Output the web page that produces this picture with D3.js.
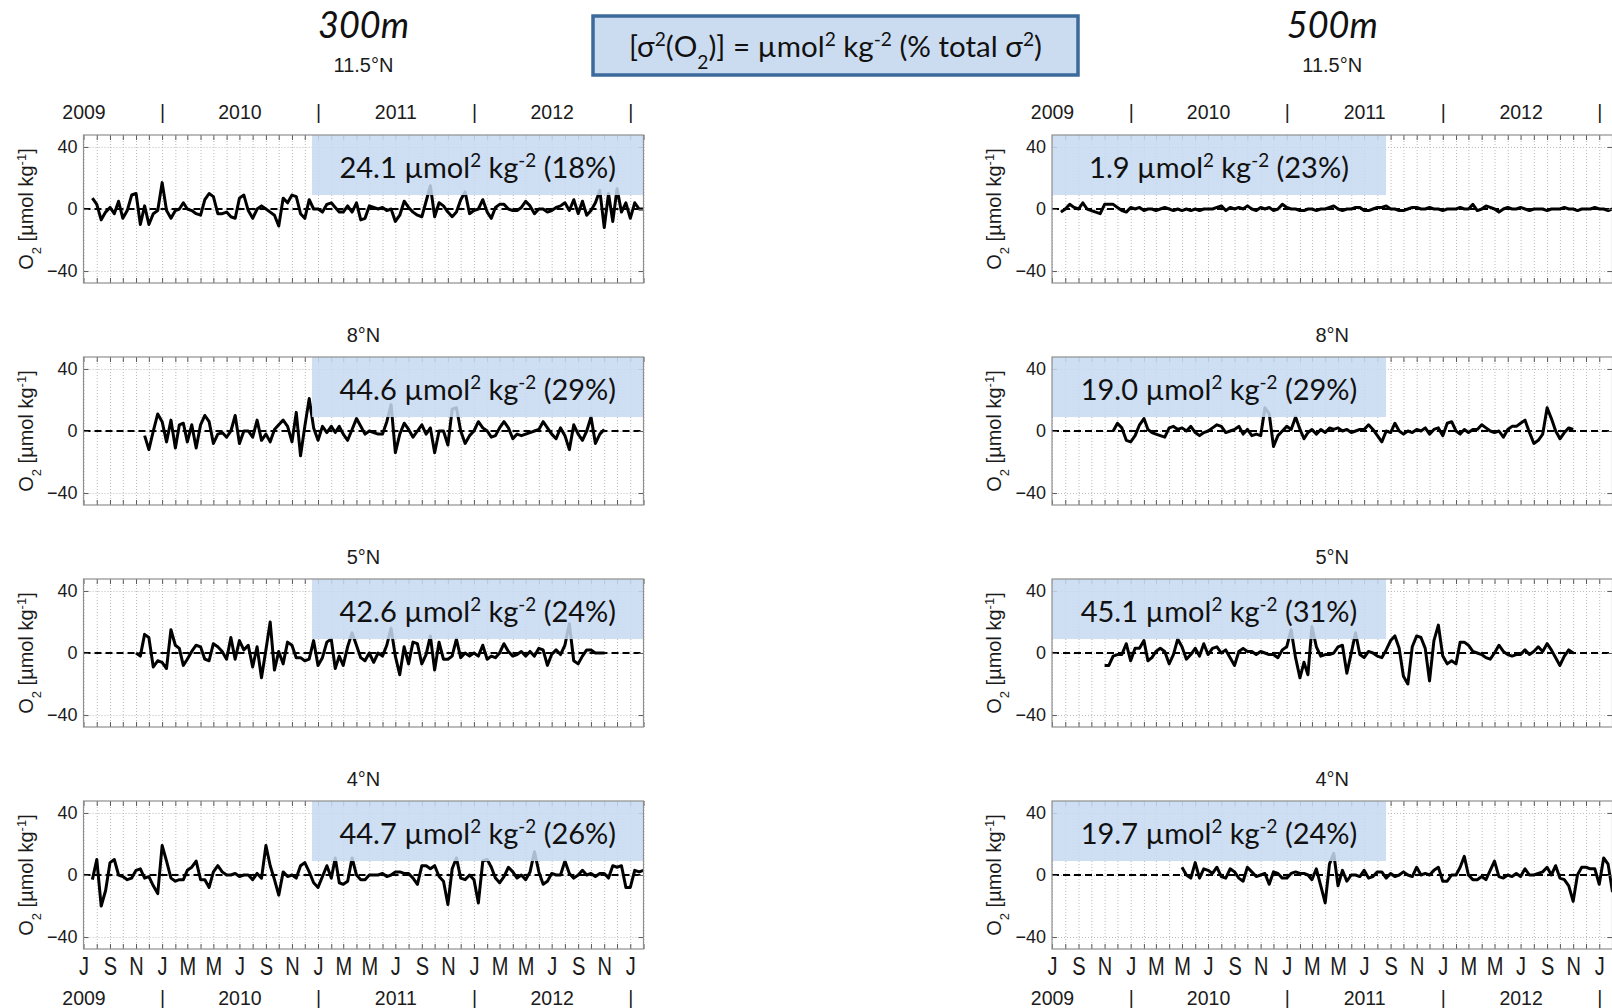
<!DOCTYPE html>
<html>
<head>
<meta charset="utf-8">
<title>O2 anomalies 300m / 500m</title>
<script src="https://cdnjs.cloudflare.com/ajax/libs/d3/7.8.5/d3.min.js"></script>
<style>
  body { margin: 0; background: #fff; }
  #chart text { font-family: "Liberation Sans", Arial, sans-serif; fill: #1b1b1b; }
  #chart .callout { font-family: Lato, "Open Sans", sans-serif; fill: #111; }
</style>
</head>
<body>
<div id="chart"></div>
<script>
//  Time sampling: records start N months after 1 Jul 2009, one value every 1/3 month
var ORIGIN  =   new Date(2009, 6, 1);
var END     =   new Date(2013, 1, 1);
var STEP    =   1 / 3;

// Labels
var depths        = ["300m", "500m"];
var latitudes     = ["11.5°N", "8°N", "5°N", "4°N"];
var years         = [2009, 2010, 2011, 2012];
var monthLetters  = ["J","F","M","A","M","J","J","A","S","O","N","D"];
var yTicks        = [-40, 0, 40];

// Variance of O2 [umol2 kg-2] and share of total variance [%]
var variance300   = ["24.1", "44.6", "42.6", "44.7"];
var share300      = [18, 29, 24, 26];
var variance500   = ["1.9", "19.0", "45.1", "19.7"];
var share500      = [23, 29, 31, 24];

// First sample of each record, months after 1 Jul 2009
var start300      = [0.67, 4.67, 4, 0.67];
var start500      = [0.67, 4.67, 4, 10];

// O2 anomalies [umol kg-1], 300m
var o2_300_11N = [7, 3, -7, -2, 1, -3, 5, -6, -1, 9,
  10, -10, 2, -10, -3, -1, 17, -1, -6, -1,
  0, 4, 0, -1, -3, -4, 6, 10, 8, -3,
  -3, -2, -5, -6, 7, 9, -1, -6, 0, 2,
  0, -2, -4, -11, 7, 4, 9, 8, -3, -6,
  6, 0, 0, -2, 3, 4, 1, -2, -2, 2,
  -2, 4, -7, -6, 2, 1, 0, 1, -1, 0,
  -8, -4, 5, 1, -2, -4, -5, 5, 15, -5,
  4, 2, -2, -5, -2, 6, 11, -3, -1, 0,
  6, -2, -6, 1, 3, 3, 0, -1, -1, 1,
  5, 2, -3, 0, 0, -2, -1, 1, 2, 4,
  -1, 6, -3, 5, -4, -1, 4, 12, -12, 10,
  -8, 13, -2, 4, -6, 4, 0, 0];
var o2_300_8N = [-3, -12, 0, 11, 6, -7, 7, -11, 4, 5,
  -7, 4, -11, 4, 10, 6, -8, -2, -1, -4,
  0, 10, -8, 0, 0, -4, 7, -6, -2, -7,
  1, 4, 7, 3, -7, 12, -16, 3, 21, 2,
  -6, 3, -1, 3, -1, 3, -2, -6, 1, 8,
  3, -2, 0, -1, -2, -2, 6, 17, -14, -2,
  5, 1, -4, 0, 4, -2, 2, -14, 0, 0,
  -9, 14, 15, 0, -8, -3, 0, 6, 2, 0,
  -4, -3, 2, 6, 2, -5, -2, -3, -2, -1,
  0, 1, 6, 2, -2, -5, 2, -3, -12, 4,
  -2, -6, 0, 9, -8, -2, 1];
var o2_300_5N = [0, -2, 12, 10, -9, -5, -6, -10, 15, 5,
  3, -8, -4, 1, 5, 4, -4, -5, 6, 4,
  1, -4, 10, -4, 8, 2, 5, -9, 4, -16,
  2, 20, -11, 1, -7, 7, 5, -3, -3, -5,
  -4, 8, -8, -3, 7, 9, -10, -2, -8, 4,
  13, 5, -3, -5, 0, -6, 0, -2, 5, 16,
  -2, -14, 4, -7, 7, 6, -7, -1, 11, -11,
  7, -4, -4, -2, 9, -3, 0, -2, 0, -2,
  5, -4, -2, -3, 0, 6, 1, -2, -1, 1,
  -2, 1, -2, 3, 2, -8, -1, 2, -1, 5,
  19, -5, -7, -2, 2, 2, 0, 0, 0];
var o2_300_4N = [-3, 10, -20, -10, 8, 10, 0, -1, -3, -2,
  3, 4, -2, -1, -7, -12, 19, 9, -2, -4,
  -3, -3, 3, 5, 9, -3, -3, -8, 2, 6,
  2, 0, 0, 1, -1, 0, 0, -3, 1, -2,
  19, 6, -3, -13, 2, -1, 0, -2, 6, 8,
  2, -5, -8, -1, 6, -2, 11, -5, -6, -4,
  11, 0, -3, -3, 0, 0, 0, 1, -1, 0,
  2, 2, 1, 1, -2, -6, 6, 6, 4, 6,
  -1, -4, -19, 4, 11, -2, -3, 0, -3, -18,
  9, 10, 5, -2, -5, -1, 5, 2, -2, 0,
  -3, 2, 15, 2, -6, -4, 1, 0, 0, 9,
  1, -2, 0, 3, 0, 1, -1, 1, 1, -2,
  6, 5, 6, -8, -8, 3, 2, 3];

// O2 anomalies [umol kg-1], 500m
var o2_500_11N = [-2, 0, 3, 1, 0, 4, 0, -1, -2, -3,
  3, 3, 3, 1, -1, -2, 1, 0, 1, -1,
  0, 0, -1, 0, 1, 0, -1, 0, -1, 0,
  -1, 0, -1, 0, 0, 0, 1, 2, -1, 1,
  0, 1, 0, 2, 0, -1, 1, 0, 1, -1,
  0, 3, 1, 0, 0, -1, -1, 0, 0, -1,
  0, 0, 1, 2, 0, -1, 0, 0, 1, 1,
  -1, -1, 0, 1, 1, 2, 0, 0, -1, -1,
  0, 1, 1, 0, 0, 1, 0, 0, -1, 0,
  0, 0, 1, 0, 0, 3, -1, 0, 2, 1,
  0, -2, 0, 1, 0, 0, 1, 0, -1, 0,
  0, 0, -1, 0, 0, 0, 1, 0, 0, -1,
  0, 0, 0, 1, 0, 0, -1, 0];
var o2_500_8N = [0, 5, 2, -6, -7, -3, 4, 8, 1, -1,
  -2, -3, -4, 2, 3, 1, 2, 0, 3, -1,
  -3, -1, 0, 2, 4, 3, -1, 0, 1, 3,
  -2, 1, -3, -2, -3, 15, 11, -10, -3, 0,
  3, 1, 9, 1, -5, -1, 1, -2, 1, -1,
  2, 1, 2, 0, 1, -1, 0, 1, 1, 4,
  1, -3, -7, 0, -1, 5, 0, -2, 0, -1,
  1, 0, 2, -2, 1, 2, -3, 5, 6, 0,
  -2, 1, -1, 1, 1, 4, 2, 0, -1, 0,
  -4, 1, 3, 3, 5, 7, -1, -8, -6, -2,
  15, 8, 0, -5, -1, 2, 1];
var o2_500_5N = [-8, -8, -2, -1, -1, 6, -5, 3, 3, 8,
  -5, -3, 1, 3, 1, -7, -1, 9, 4, -4,
  -1, 3, -2, 6, -1, 3, 4, 0, 2, -3,
  -8, 1, 3, 1, 1, -1, 1, 0, -1, -1,
  -3, 2, 4, 15, -3, -16, -6, -14, 17, 4,
  -2, -1, -1, 0, 4, 5, -13, 0, 13, -1,
  -3, 1, 0, -2, -3, 2, 8, 11, 3, -15,
  -20, 4, 11, 10, 3, -18, 8, 18, -2, -7,
  -5, -7, 7, 7, 5, 1, 0, -1, -3, -4,
  0, 5, 1, -1, -2, -1, -1, 2, -1, 1,
  4, 1, 6, 2, -3, -8, -2, 2, 0];
var o2_500_4N = [5, 0, -2, 8, -2, 4, 3, 1, 5, -1,
  -2, 4, 2, -2, -4, 5, 2, -1, 0, 1,
  -6, 2, 1, -2, -2, 1, 2, 1, 1, 0,
  -3, 4, -7, -18, 7, 14, -7, 3, -4, 0,
  0, -1, 3, -2, -1, 2, 2, -2, 1, -1,
  0, 2, 0, -1, 5, 0, 1, 0, 3, 5,
  -4, -4, 0, 0, 5, 12, 0, -3, -3, -1,
  -3, 3, 9, -1, -2, 0, -1, 1, -1, 4,
  0, 0, 1, 2, 5, 0, 6, -2, -3, -7,
  -17, 0, 5, 5, 4, 4, -6, 11, 7, -11];

var columns = [
    { depth: depths[0], series: [o2_300_11N, o2_300_8N, o2_300_5N, o2_300_4N],
      start: start300, variance: variance300, share: share300 },
    { depth: depths[1], series: [o2_500_11N, o2_500_8N, o2_500_5N, o2_500_4N],
      start: start500, variance: variance500, share: share500 }
];


//  Layout
var chart_width   = 1612;
var chart_height  = 1008;
var colX0         = [83.5, 1052];
var colX1         = [643.5, 1612.5];
var rowTop        = [135, 357, 579, 801];
var boxH          = 148;
var yLabelX       = [33, 1001];
var calloutSpan   = [[0.408, 1], [0, 0.596]];   // blue label box, fraction of panel width


function sampleDate(t) {
    var m = Math.floor(t + 1e-6);
    var a = d3.timeMonth.offset(ORIGIN, m);
    var b = d3.timeMonth.offset(ORIGIN, m + 1);
    return new Date(+a + (t - m) * (b - a));
}

// text with super/subscripts: parts = [[text, shift], ...]
function richText(sel, parts) {
    parts.forEach(function(p){
        var ts = sel.append("tspan").text(p[0]);
        if (p[1]) {
            ts.attr("baseline-shift", p[1]).attr("font-size", "65%");
        }
    });
    return sel;
}


// Create SVG
var svg = d3.select("#chart")
    .append("svg")
    .attr("width", chart_width)
    .attr("height", chart_height);


// Header box
svg.append("rect")
    .attr("x", 593)
    .attr("y", 16)
    .attr("width", 485)
    .attr("height", 59)
    .attr("fill", "#cbdbf0")
    .attr("stroke", "#3b6a9b")
    .attr("stroke-width", 3.5);

richText(svg.append("text")
    .attr("class", "callout")
    .attr("x", 835.5)
    .attr("y", 57)
    .attr("text-anchor", "middle")
    .attr("font-size", 29.5),
    [["[σ"], ["2", "super"], ["(O"], ["2", "sub"], [")] = µmol"], ["2", "super"],
     [" kg"], ["-2", "super"], [" (% total σ"], ["2", "super"], [")"]]);


function yearRow(x, baseline) {
    var ya = svg.append("g")
        .attr("transform", "translate(0," + baseline + ")")
        .call(d3.axisTop(x)
            .tickValues(years.map(function(yr){ return new Date(yr, 6, 1); }))
            .tickFormat(d3.timeFormat("%Y"))
            .tickSize(0)
            .tickPadding(0));
    var sep = svg.append("g")
        .attr("transform", "translate(0," + baseline + ")")
        .call(d3.axisTop(x)
            .tickValues(d3.timeYear.range(ORIGIN, END))
            .tickFormat(function(){ return "|"; })
            .tickSize(0)
            .tickPadding(0));
    [ya, sep].forEach(function(a){
        a.attr("font-size", 19.5).attr("font-family", null);
        a.select(".domain").remove();
    });
}


function drawPanel(x, c, r, col) {
    var top   = rowTop[r];
    var x0    = x.range()[0];
    var x1    = x.range()[1];
    var w     = x1 - x0;
    var y     = d3.scaleLinear().domain([-47.7, 47.7]).range([top + boxH, top]);
    var g     = svg.append("g");
    var clipId = "clip-" + c + "-" + r;

    g.append("clipPath")
        .attr("id", clipId)
        .append("rect")
        .attr("x", x0)
        .attr("y", top)
        .attr("width", w)
        .attr("height", boxH);

    // latitude title
    g.append("text")
        .attr("x", (x0 + x1) / 2)
        .attr("y", r === 0 ? 72 : top - 15)
        .attr("text-anchor", "middle")
        .attr("font-size", 20)
        .text(latitudes[r]);

    // dotted grid
    var gx = g.append("g")
        .attr("transform", "translate(0," + (top + boxH) + ")")
        .call(d3.axisBottom(x).ticks(d3.timeMonth.every(1)).tickSize(-boxH).tickSizeOuter(0).tickFormat(""));
    var gy = g.append("g")
        .attr("transform", "translate(" + x0 + ",0)")
        .call(d3.axisLeft(y).tickValues(yTicks).tickSize(-w).tickSizeOuter(0).tickFormat(""));
    [gx, gy].forEach(function(a){
        a.select(".domain").remove();
        a.selectAll("line")
            .attr("stroke", "#b9b9b9")
            .attr("stroke-dasharray", "1,2");
    });

    // zero line
    g.append("line")
        .attr("x1", x0)
        .attr("x2", x1)
        .attr("y1", y(0))
        .attr("y2", y(0))
        .attr("stroke", "#000")
        .attr("stroke-width", 2)
        .attr("stroke-dasharray", "7,4");

    // O2 record
    var data = col.series[r].map(function(v, i){
        return { date: sampleDate(col.start[r] + i * STEP), value: v };
    });
    var line = d3.line()
        .x(function(d){ return x(d.date); })
        .y(function(d){ return y(d.value); });

    g.append("path")
        .datum(data)
        .attr("clip-path", "url(#" + clipId + ")")
        .attr("fill", "none")
        .attr("stroke", "#000")
        .attr("stroke-width", 3)
        .attr("stroke-linejoin", "round")
        .attr("d", line);

    // inward ticks
    var tTop = g.append("g")
        .attr("transform", "translate(0," + top + ")")
        .call(d3.axisTop(x).ticks(d3.timeMonth.every(1)).tickSize(-5).tickSizeOuter(0).tickFormat(""));
    var tBot = g.append("g")
        .attr("transform", "translate(0," + (top + boxH) + ")")
        .call(d3.axisBottom(x).ticks(d3.timeMonth.every(1)).tickSize(-5).tickSizeOuter(0).tickFormat(""));
    var tL = g.append("g")
        .attr("transform", "translate(" + x0 + ",0)")
        .call(d3.axisLeft(y).tickValues(yTicks).tickSize(-5).tickSizeOuter(0).tickPadding(6));
    var tR = g.append("g")
        .attr("transform", "translate(" + x1 + ",0)")
        .call(d3.axisRight(y).tickValues(yTicks).tickSize(-5).tickSizeOuter(0).tickFormat(""));
    [tTop, tBot, tL, tR].forEach(function(a){
        a.select(".domain").remove();
        a.selectAll("line").attr("stroke", "#5a5a5a");
    });
    tL.attr("font-size", 18).attr("font-family", null);

    // blue label box
    var bx0 = x0 + calloutSpan[c][0] * w;
    var bx1 = x0 + calloutSpan[c][1] * w;
    g.append("rect")
        .attr("x", bx0)
        .attr("y", top)
        .attr("width", bx1 - bx0)
        .attr("height", y(9) - top)
        .attr("fill", "#c6d9f1")
        .attr("fill-opacity", 0.86);

    richText(g.append("text")
        .attr("class", "callout")
        .attr("x", (bx0 + bx1) / 2)
        .attr("y", top + 43)
        .attr("text-anchor", "middle")
        .attr("font-size", 29),
        [[col.variance[r] + " µmol"], ["2", "super"], [" kg"], ["-2", "super"],
         [" (" + col.share[r] + "%)"]]);

    // frame
    g.append("rect")
        .attr("x", x0)
        .attr("y", top)
        .attr("width", w)
        .attr("height", boxH)
        .attr("fill", "none")
        .attr("stroke", "#8f8f8f")
        .attr("stroke-width", 1.2);

    // y label
    richText(g.append("text")
        .attr("transform", "translate(" + yLabelX[c] + "," + (top + boxH / 2) + ") rotate(-90)")
        .attr("text-anchor", "middle")
        .attr("font-size", 20),
        [["O"], ["2", "sub"], [" [µmol kg"], ["-1", "super"], ["]"]]);
}


columns.forEach(function(col, c){
    var x = d3.scaleTime()
        .domain([ORIGIN, END])
        .range([colX0[c], colX1[c]]);

    // depth title
    svg.append("text")
        .attr("class", "callout")
        .attr("x", (colX0[c] + colX1[c]) / 2)
        .attr("y", 38)
        .attr("text-anchor", "middle")
        .attr("font-size", 36)
        .attr("font-style", "italic")
        .text(col.depth);

    yearRow(x, 119);
    yearRow(x, 1005);

    latitudes.forEach(function(lat, r){
        drawPanel(x, c, r, col);
    });

    // month initials under the last row (condensed look)
    var mAxis = svg.append("g")
        .attr("transform", "translate(0,975)")
        .call(d3.axisTop(x)
            .tickValues(d3.timeMonth.every(2).range(ORIGIN, END))
            .tickFormat(function(d){ return monthLetters[d.getMonth()]; })
            .tickSize(0)
            .tickPadding(0));
    mAxis.attr("font-size", 25).attr("font-family", null);
    mAxis.select(".domain").remove();
    mAxis.selectAll("text").attr("transform", "scale(0.8,1)");
});
</script>
</body>
</html>
